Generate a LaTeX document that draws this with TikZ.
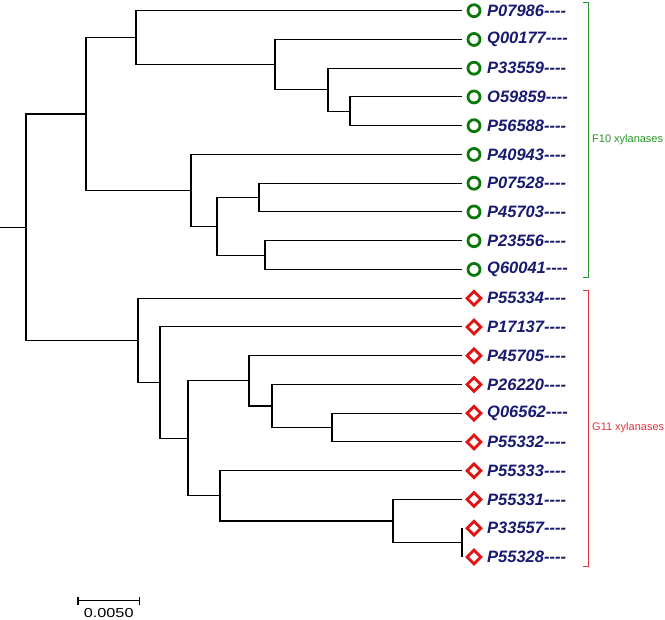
\documentclass[tikz,border=0pt]{standalone}
\usepackage{fontspec}
\setmainfont{Liberation Sans}
\usetikzlibrary{shapes.geometric}
\definecolor{leafblue}{RGB}{25,25,112}
\definecolor{mkgreen}{RGB}{10,120,10}
\definecolor{brgreen}{RGB}{40,150,40}
\definecolor{mkred}{RGB}{225,20,20}
\definecolor{brred}{RGB}{230,50,60}
\begin{document}
\begin{tikzpicture}[x=1pt,y=-1pt,
  branch/.style={draw=black,line width=1.1pt},
  leaftext/.style={anchor=west,inner sep=0pt,text=leafblue,font=\fontsize{16.5}{16.5}\selectfont\bfseries\itshape},
  circmark/.style={circle,draw=mkgreen,line width=2.8pt,minimum size=12pt,inner sep=0pt},
  diamark/.style={diamond,draw=mkred,line width=2.8pt,minimum size=15pt,inner sep=0pt},
  grouplabel/.style={anchor=west,inner sep=0pt,font=\fontsize{11}{11}\selectfont},
  scalebar/.style={draw=black,line width=1.1pt}]
\useasboundingbox (0,0) rectangle (665,620);
\fill[white] (0,0) rectangle (665,620);
% leaves
\foreach \id [count=\i from 0] in {P07986,Q00177,P33559,O59859,P56588,P40943,P07528,P45703,P23556,Q60041,P55334,P17137,P45705,P26220,Q06562,P55332,P55333,P55331,P33557,P55328}{
  \pgfmathsetmacro\yy{10.7+28.75*\i}
  \coordinate (l\i) at (462,\yy);
  \ifnum\i<10
    \node[circmark] (m\i) at (474,\yy) {};
  \else
    \node[diamark] (m\i) at (474,\yy) {};
  \fi
  \node[leaftext] (t\i) at (487,\yy) {\id-{}-{}-{}-};
}
% internal nodes
\coordinate (D) at (350,111.3);
\coordinate (C) at (328,89.75);
\coordinate (B) at (275,64.6);
\coordinate (A) at (136,37.65);
\coordinate (G) at (259,197.6);
\coordinate (H) at (265,255.1);
\coordinate (F) at (217,226.35);
\coordinate (E) at (191,190.4);
\coordinate (F10) at (86,114.0);
\coordinate (M) at (332,427.6);
\coordinate (L) at (272,406.0);
\coordinate (K) at (249,380.85);
\coordinate (P) at (462,542.6);
\coordinate (O) at (393,521.0);
\coordinate (N) at (220,495.85);
\coordinate (J) at (188,438.35);
\coordinate (I) at (160,382.65);
\coordinate (G11) at (138,340.4);
\coordinate (root) at (26,227.2);
\coordinate (rootin) at (0,227.2);
% F10 clade
\draw[branch] (l3) -| (D) |- (l4);
\draw[branch] (l2) -| (C) |- (D);
\draw[branch] (l1) -| (B) |- (C);
\draw[branch] (l0) -| (A) |- (B);
\draw[branch] (l6) -| (G) |- (l7);
\draw[branch] (l8) -| (H) |- (l9);
\draw[branch] (G) -| (F) |- (H);
\draw[branch] (l5) -| (E) |- (F);
\draw[branch] (A) -| (F10) |- (E);
% G11 clade
\draw[branch] (l14) -| (M) |- (l15);
\draw[branch] (l13) -| (L) |- (M);
\draw[branch] (l12) -| (K) |- (L);
\draw[branch] (l18) -| (P) |- (l19);
\draw[branch] (l17) -| (O) |- (P);
\draw[branch] (l16) -| (N) |- (O);
\draw[branch] (K) -| (J) |- (N);
\draw[branch] (l11) -| (I) |- (J);
\draw[branch] (l10) -| (G11) |- (I);
% root
\draw[branch] (F10) -| (root) |- (G11);
\draw[branch] (rootin) -- (root);
% brackets
\coordinate (f10top) at (583,2.7);
\coordinate (f10bot) at (583,277.7);
\coordinate (g11top) at (583,290);
\coordinate (g11bot) at (583,566);
\draw[brgreen,line width=0.9pt] (f10top) -- ++(5,0) |- (f10bot);
\draw[brred,line width=0.9pt] (g11top) -- ++(5,0) |- (g11bot);
\node[grouplabel,text=brgreen] (f10lab) at (592,140) {F10 xylanases};
\node[grouplabel,text=brred] (g11lab) at (592,428) {G11 xylanases};
% scale bar
\coordinate (sb1) at (78,600.7);
\coordinate (sb2) at (139.5,600.7);
\draw[scalebar] (sb1) -- (sb2);
\draw[scalebar] ([yshift=-4pt]sb1) -- ([yshift=4pt]sb1);
\draw[scalebar] ([yshift=-4pt]sb2) -- ([yshift=4pt]sb2);
\node[inner sep=0pt,font=\fontsize{13}{13}\selectfont,xscale=1.25] (sblab) at (108.7,613) {0.0050};
\end{tikzpicture}
\end{document}
